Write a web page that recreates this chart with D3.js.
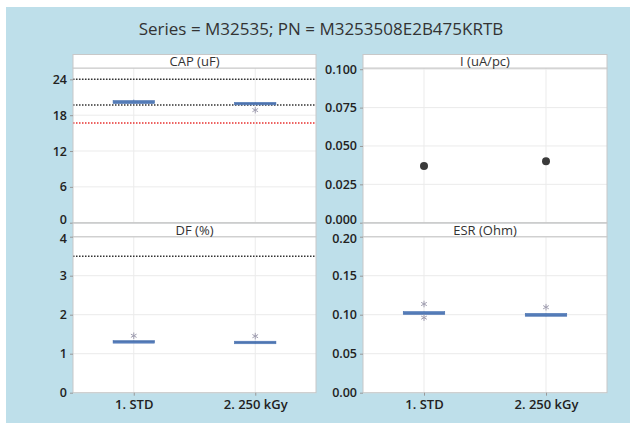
<!DOCTYPE html>
<html>
<head>
<meta charset="utf-8">
<script src="https://cdn.jsdelivr.net/npm/d3@7"></script>
<style>
	body { margin: 0; background: #ffffff; }
	svg { display: block; }
</style>
</head>
<body>
<div id="chart"></div>
<script>

// (data) Values
var title = "Series = M32535; PN = M3253508E2B475KRTB";
var categories = ["1. STD", "2. 250 kGy"];

var capBox = [
	{q1: 19.95, med: 20.2, q3: 20.45, lo: 19.95, hi: 20.6},
	{q1: 19.8, med: 19.95, q3: 20.15, lo: 19.8, hi: 20.15}
];
var capOutliers = [[], [18.85]];
var capLimits = [24, 19.7];
var capRedLimits = [16.7];
var capTicks = [0, 6, 12, 18, 24];

var iValues = [0.0369, 0.0400];
var iTicks = [0, 0.025, 0.05, 0.075, 0.1];

var dfBox = [
	{q1: 1.275, med: 1.31, q3: 1.335, lo: 1.275, hi: 1.335},
	{q1: 1.255, med: 1.29, q3: 1.32, lo: 1.255, hi: 1.32}
];
var dfOutliers = [[1.46], [1.45]];
var dfLimits = [3.5];
var dfTicks = [0, 1, 2, 3, 4];

var esrBox = [
	{q1: 0.1003, med: 0.102, q3: 0.104, lo: 0.1003, hi: 0.104},
	{q1: 0.098, med: 0.0995, q3: 0.1017, lo: 0.098, hi: 0.1017}
];
var esrOutliers = [[0.1137, 0.0962], [0.1096]];
var esrTicks = [0, 0.05, 0.1, 0.15, 0.2];

// (layout)
var W = 630, H = 423;
var font = "'Open Sans', 'Noto Sans', sans-serif";
var boxColor = "#5b84c2";

var svg = d3.select("#chart")
	.append("svg")
	.attr("width", W)
	.attr("height", H);

svg.append("rect")
	.attr("x", 6)
	.attr("y", 7)
	.attr("width", W - 6)
	.attr("height", H - 7)
	.attr("fill", "#bedfea");

svg.append("text")
	.attr("x", 321)
	.attr("y", 35)
	.attr("text-anchor", "middle")
	.attr("font-family", font)
	.attr("font-size", 17)
	.attr("fill", "#333")
	.text(title);

var panels = [
	{name: "CAP (uF)", x0: 73, x1: 316, y0: 54.5, y1: 222.7, max: 25.9, ticks: capTicks,
		fmt: d3.format("d"), box: capBox, outliers: capOutliers, limits: capLimits, red: capRedLimits,
		xlabels: false, shift: -1.5},
	{name: "I (uA/pc)", x0: 363, x1: 607, y0: 54.5, y1: 222.7, max: 0.1008, ticks: iTicks,
		fmt: d3.format(".3f"), points: iValues, xlabels: false, shift: -1.5},
	{name: "DF (%)", x0: 73, x1: 316, y0: 223.2, y1: 392.7, max: 4, ticks: dfTicks,
		fmt: d3.format("d"), box: dfBox, outliers: dfOutliers, limits: dfLimits, xlabels: true, shift: 1.5},
	{name: "ESR (Ohm)", x0: 363, x1: 607, y0: 223.2, y1: 392.7, max: 0.2, ticks: esrTicks,
		fmt: d3.format(".2f"), box: esrBox, outliers: esrOutliers, xlabels: true, shift: 1.5}
];

var stripH = 13.5;

panels.forEach(function(p) {
	var top = p.y0 + stripH;
	var x = d3.scaleLinear().domain([0.5, 2.5]).range([p.x0, p.x1]);
	var y = d3.scaleLinear().domain([0, p.max]).range([p.y1, top]);
	var g = svg.append("g");

	// (plot) white area
	g.append("rect")
		.attr("x", p.x0).attr("y", top)
		.attr("width", p.x1 - p.x0).attr("height", p.y1 - top)
		.attr("fill", "#fff");

	// (grid)
	g.selectAll(".hg").data(p.ticks).enter().append("line")
		.attr("x1", p.x0).attr("x2", p.x1)
		.attr("y1", function(d) { return y(d); })
		.attr("y2", function(d) { return y(d); })
		.attr("stroke", "#ebebeb").attr("stroke-width", 1);
	g.selectAll(".vg").data(categories).enter().append("line")
		.attr("x1", function(d, i) { return x(i + 1); })
		.attr("x2", function(d, i) { return x(i + 1); })
		.attr("y1", top).attr("y2", p.y1)
		.attr("stroke", "#ebebeb").attr("stroke-width", 1);

	// (limits) dotted reference lines
	(p.limits || []).forEach(function(v) {
		g.append("line")
			.attr("x1", p.x0).attr("x2", p.x1)
			.attr("y1", y(v)).attr("y2", y(v))
			.attr("stroke", "#333").attr("stroke-width", 1.5)
			.attr("stroke-dasharray", "1.5,1.5");
	});
	(p.red || []).forEach(function(v) {
		g.append("line")
			.attr("x1", p.x0).attr("x2", p.x1)
			.attr("y1", y(v)).attr("y2", y(v))
			.attr("stroke", "#e8312f").attr("stroke-width", 1.5)
			.attr("stroke-dasharray", "1.5,1.5");
	});

	// (boxes)
	if (p.box) {
		var hw = 0.17;
		p.box.forEach(function(b, i) {
			g.append("line")
				.attr("x1", x(i + 1)).attr("x2", x(i + 1))
				.attr("y1", y(b.lo)).attr("y2", y(b.hi))
				.attr("stroke", boxColor).attr("stroke-width", 1);
			g.append("rect")
				.attr("x", x(i + 1 - hw))
				.attr("y", y(b.q3))
				.attr("width", x(i + 1 + hw) - x(i + 1 - hw))
				.attr("height", Math.max(y(b.q1) - y(b.q3), 2.5))
				.attr("fill", boxColor)
				.attr("stroke", "#4d74b0").attr("stroke-width", 0.6);
			g.append("line")
				.attr("x1", x(i + 1 - hw)).attr("x2", x(i + 1 + hw))
				.attr("y1", y(b.med)).attr("y2", y(b.med))
				.attr("stroke", "#4a6ea8").attr("stroke-width", 0.8);
			p.outliers[i].forEach(function(v) {
				g.append("path")
					.attr("d", d3.symbol().type(d3.symbolAsterisk).size(30)())
					.attr("transform", "translate(" + x(i + 1) + "," + y(v) + ")")
					.attr("fill", "none")
					.attr("stroke", "#a09eb0").attr("stroke-width", 1);
			});
		});
	}

	// (points)
	if (p.points) {
		g.selectAll(".pt").data(p.points).enter().append("circle")
			.attr("cx", function(d, i) { return x(i + 1); })
			.attr("cy", function(d) { return y(d); })
			.attr("r", 4)
			.attr("fill", "#3a3a3a");
	}

	// (frame)
	g.append("rect")
		.attr("x", p.x0).attr("y", top)
		.attr("width", p.x1 - p.x0).attr("height", p.y1 - top)
		.attr("fill", "none").attr("stroke", "#c8c8c8").attr("stroke-width", 1);

	// (strip)
	g.append("rect")
		.attr("x", p.x0).attr("y", p.y0)
		.attr("width", p.x1 - p.x0).attr("height", stripH)
		.attr("fill", "#fff").attr("stroke", "#c8c8c8").attr("stroke-width", 1);
	g.append("text")
		.attr("x", (p.x0 + p.x1) / 2)
		.attr("y", p.y0 + stripH - 2)
		.attr("text-anchor", "middle")
		.attr("font-family", font)
		.attr("font-size", 13)
		.attr("fill", "#333")
		.text(p.name);

	// (axes)
	var yAxis = g.append("g")
		.attr("transform", "translate(" + p.x0 + ",0)")
		.call(d3.axisLeft(y).tickValues(p.ticks).tickFormat(p.fmt).tickSize(3).tickPadding(3));
	yAxis.select(".domain").remove();
	yAxis.selectAll("line").attr("stroke", "#999");
	yAxis.selectAll("text")
		.attr("font-family", font)
		.attr("font-size", 12.5)
		.attr("font-weight", 600)
		.attr("fill", "#222");
	// nudge the crowded end labels where the panels meet
	yAxis.selectAll(".tick text")
		.filter(function(d) { return (p.shift < 0 && d === 0) || (p.shift > 0 && d === p.max); })
		.attr("dy", function() { return p.shift < 0 ? "0.1em" : "0.5em"; });

	if (p.xlabels) {
		var xAxis = g.append("g")
			.attr("transform", "translate(0," + p.y1 + ")")
			.call(d3.axisBottom(x).tickValues([1, 2])
				.tickFormat(function(d) { return categories[d - 1]; })
				.tickSize(3).tickPadding(4));
		xAxis.select(".domain").remove();
		xAxis.selectAll("line").attr("stroke", "#999");
		xAxis.selectAll("text")
			.attr("font-family", font)
			.attr("font-size", 13)
			.attr("font-weight", 600)
			.attr("fill", "#222");
	}
});

</script>
</body>
</html>
